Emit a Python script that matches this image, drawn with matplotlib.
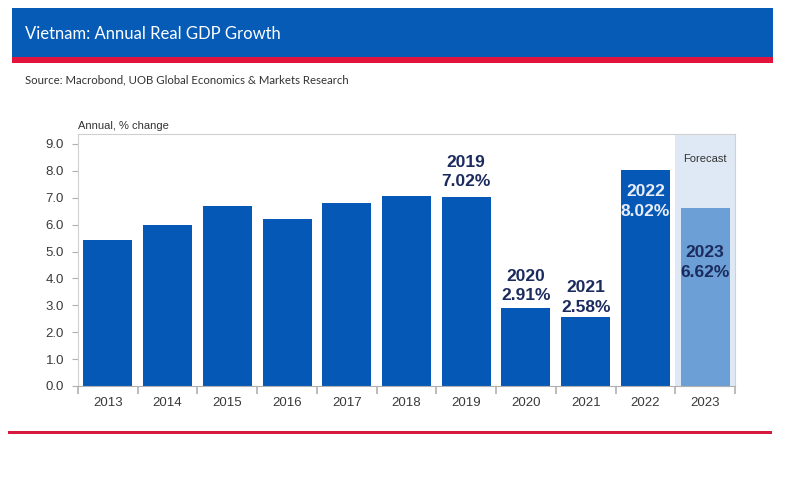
import matplotlib.pyplot as plt
from matplotlib.patches import Rectangle

years = ["2013", "2014", "2015", "2016", "2017", "2018", "2019", "2020", "2021", "2022", "2023"]
growth = [5.42, 5.98, 6.68, 6.21, 6.81, 7.08, 7.02, 2.91, 2.58, 8.02, 6.62]
forecast = [False] * 10 + [True]

# callouts: (index, text, y in data units, colour)
callouts = [
    (6, "2019\n7.02%", 7.96, "#1c2b5e"),
    (7, "2020\n2.91%", 3.72, "#1c2b5e"),
    (8, "2021\n2.58%", 3.29, "#1c2b5e"),
    (9, "2022\n8.02%", 6.86, "#e9edf8"),
    (10, "2023\n6.62%", 4.59, "#1c2b5e"),
]

plt.rcParams["font.family"] = ["Liberation Sans", "DejaVu Sans"]

fig = plt.figure(figsize=(8, 4.84), dpi=100)
W, H = 800, 484


def fx(px):
    return px / W


def fy(py):
    return 1 - py / H


# header band
fig.patches.append(Rectangle((fx(12), fy(57)), fx(761), 49 / H, transform=fig.transFigure,
                             facecolor="#055bb5", edgecolor="none"))
fig.patches.append(Rectangle((fx(12), fy(63)), fx(761), 6 / H, transform=fig.transFigure,
                             facecolor="#e2133c", edgecolor="none"))
fig.text(fx(25), fy(34), "Vietnam: Annual Real GDP Growth", color="white", fontsize=12,
         family=["Lato", "DejaVu Sans"], va="center")
fig.text(fx(25), fy(80), "Source: Macrobond, UOB Global Economics & Markets Research", color="#333333",
         fontsize=8.2, family=["Lato", "DejaVu Sans"], va="center")

# bottom rule
fig.patches.append(Rectangle((fx(8), fy(433.5)), fx(764), 3 / H, transform=fig.transFigure,
                             facecolor="#d8193f", edgecolor="none"))

ax = fig.add_axes([fx(78), fy(386), fx(657), (386 - 134) / H])
x = range(len(years))
colors = ["#6b9fd6" if f else "#0558b6" for f in forecast]
ax.axvspan(9.5, 10.5, color="#dfe9f5", zorder=0, lw=0)
ax.bar(x, growth, width=0.82, color=colors, zorder=2)

for i, txt, yv, col in callouts:
    ax.text(i, yv, txt, ha="center", va="center", fontsize=12.5, fontweight="bold",
            color=col, linespacing=1.35, zorder=3)

ax.text(10, 8.45, "Forecast", ha="center", va="center", fontsize=8, color="#333333")
ax.text(0.0, 1.01, "Annual, % change", transform=ax.transAxes, ha="left", va="bottom",
        fontsize=8, color="#333333")

ax.set_xlim(-0.5, 10.5)
ax.set_ylim(0, 9.37)
ax.set_yticks([i * 1.0 for i in range(10)])
ax.set_yticklabels([f"{i:.1f}" for i in range(10)], fontsize=9.5, color="#3a3a3a")
ax.set_xticks(list(x))
ax.set_xticklabels(years, fontsize=9.5, color="#3a3a3a")
ax.set_xticks([i - 0.5 for i in range(12)], minor=True)
ax.tick_params(axis="x", which="major", length=0, pad=8)
ax.tick_params(axis="x", which="minor", length=6, color="#b0b0b0", width=1.2)
ax.tick_params(axis="y", length=4, color="#b0b0b0", pad=6)
for s in ax.spines.values():
    s.set_color("#d0d0d0")
    s.set_linewidth(0.8)
ax.spines["bottom"].set_color("#b0b0b0")

fig.savefig("out.png", dpi=100)
